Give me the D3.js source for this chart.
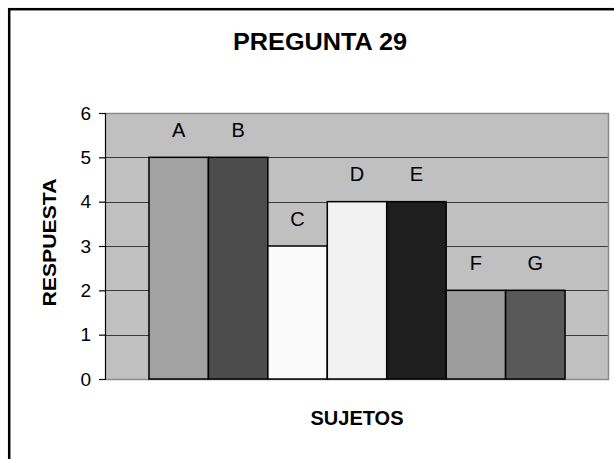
<!DOCTYPE html>
<html>
<head>
<meta charset="utf-8">
<script src="https://cdn.jsdelivr.net/npm/d3@7"></script>
<style>
  html, body { margin: 0; padding: 0; background: #ffffff; }
  svg { display: block; font-family: Arial, "Liberation Sans", sans-serif; }
</style>
</head>
<body>
<svg id="chart" width="614" height="459"></svg>
<script>
// Data
const subjects = ["A", "B", "C", "D", "E", "F", "G"];
const answers = [5, 5, 3, 4, 4, 2, 2];
const barColors = ["#a2a2a2", "#4c4c4c", "#fafafa", "#f2f2f2", "#1e1e1e", "#9c9c9c", "#595959"];
const yTicks = [0, 1, 2, 3, 4, 5, 6];
const titleText = "PREGUNTA 29";
const xTitle = "SUJETOS";
const yTitle = "RESPUESTA";

const svg = d3.select("#chart");

// Outer chart frame (continues past the visible window on right and bottom)
svg.append("rect")
  .attr("x", 9.2).attr("y", 9.2)
  .attr("width", 640).attr("height", 480)
  .attr("fill", "#ffffff")
  .attr("stroke", "#000000")
  .attr("stroke-width", 2.5);

const plot = { left: 105, right: 609, top: 113, bottom: 379 };

const x = d3.scaleBand()
  .domain(subjects)
  .range([plot.left, plot.right])
  .paddingInner(0)
  .paddingOuter(0.74);

const y = d3.scaleLinear()
  .domain([0, 6])
  .range([plot.bottom, plot.top]);

// Plot background
svg.append("rect")
  .attr("x", plot.left).attr("y", plot.top)
  .attr("width", plot.right - plot.left)
  .attr("height", plot.bottom - plot.top)
  .attr("fill", "#c0c0c0");

// Horizontal gridlines
svg.append("g")
  .selectAll("line")
  .data(yTicks.filter(d => d > 0 && d < 6))
  .join("line")
  .attr("x1", plot.left).attr("x2", plot.right)
  .attr("y1", d => Math.round(y(d)) + 0.5)
  .attr("y2", d => Math.round(y(d)) + 0.5)
  .attr("stroke", "#3c3c3c")
  .attr("stroke-width", 1);

// Plot frame: top, right and bottom in grey
svg.append("path")
  .attr("d", `M${plot.left},${plot.top + 0.5} H${plot.right - 0.5} V${plot.bottom + 0.5} H${plot.left}`)
  .attr("fill", "none")
  .attr("stroke", "#8a8a8a")
  .attr("stroke-width", 1.5);

// Bars
svg.append("g")
  .selectAll("rect")
  .data(subjects)
  .join("rect")
  .attr("x", d => x(d))
  .attr("y", (d, i) => y(answers[i]))
  .attr("width", x.bandwidth())
  .attr("height", (d, i) => y(0) - y(answers[i]))
  .attr("fill", (d, i) => barColors[i])
  .attr("stroke", "#000000")
  .attr("stroke-width", 1.5);

// Category labels above each bar
svg.append("g")
  .selectAll("text")
  .data(subjects)
  .join("text")
  .attr("x", d => x(d) + x.bandwidth() / 2)
  .attr("y", (d, i) => y(answers[i]) - 20.5)
  .attr("text-anchor", "middle")
  .attr("font-size", 20)
  .attr("fill", "#000000")
  .text(d => d);

// Y axis
const yAxis = d3.axisLeft(y)
  .tickValues(yTicks)
  .tickFormat(d3.format("d"))
  .tickSize(6)
  .tickPadding(8);

const gy = svg.append("g")
  .attr("transform", `translate(${plot.left},0)`)
  .call(yAxis);
gy.select(".domain").attr("stroke", "#000000").attr("stroke-width", 1.2);
gy.selectAll(".tick line").attr("stroke", "#000000").attr("stroke-width", 1.2);
gy.selectAll(".tick text")
  .attr("font-size", 19)
  .attr("font-family", "Arial, 'Liberation Sans', sans-serif")
  .attr("fill", "#000000");

// Titles
svg.append("text")
  .attr("x", 320).attr("y", 50)
  .attr("text-anchor", "middle")
  .attr("font-size", 24)
  .attr("font-weight", "bold")
  .attr("textLength", 174)
  .attr("lengthAdjust", "spacingAndGlyphs")
  .text(titleText);

svg.append("text")
  .attr("x", 357).attr("y", 424.5)
  .attr("text-anchor", "middle")
  .attr("font-size", 20.5)
  .attr("font-weight", "bold")
  .attr("textLength", 93)
  .attr("lengthAdjust", "spacingAndGlyphs")
  .text(xTitle);

svg.append("text")
  .attr("transform", "translate(55.5,242.5) rotate(-90)")
  .attr("text-anchor", "middle")
  .attr("font-size", 18)
  .attr("font-weight", "bold")
  .attr("textLength", 128)
  .attr("lengthAdjust", "spacingAndGlyphs")
  .text(yTitle);
</script>
</body>
</html>
